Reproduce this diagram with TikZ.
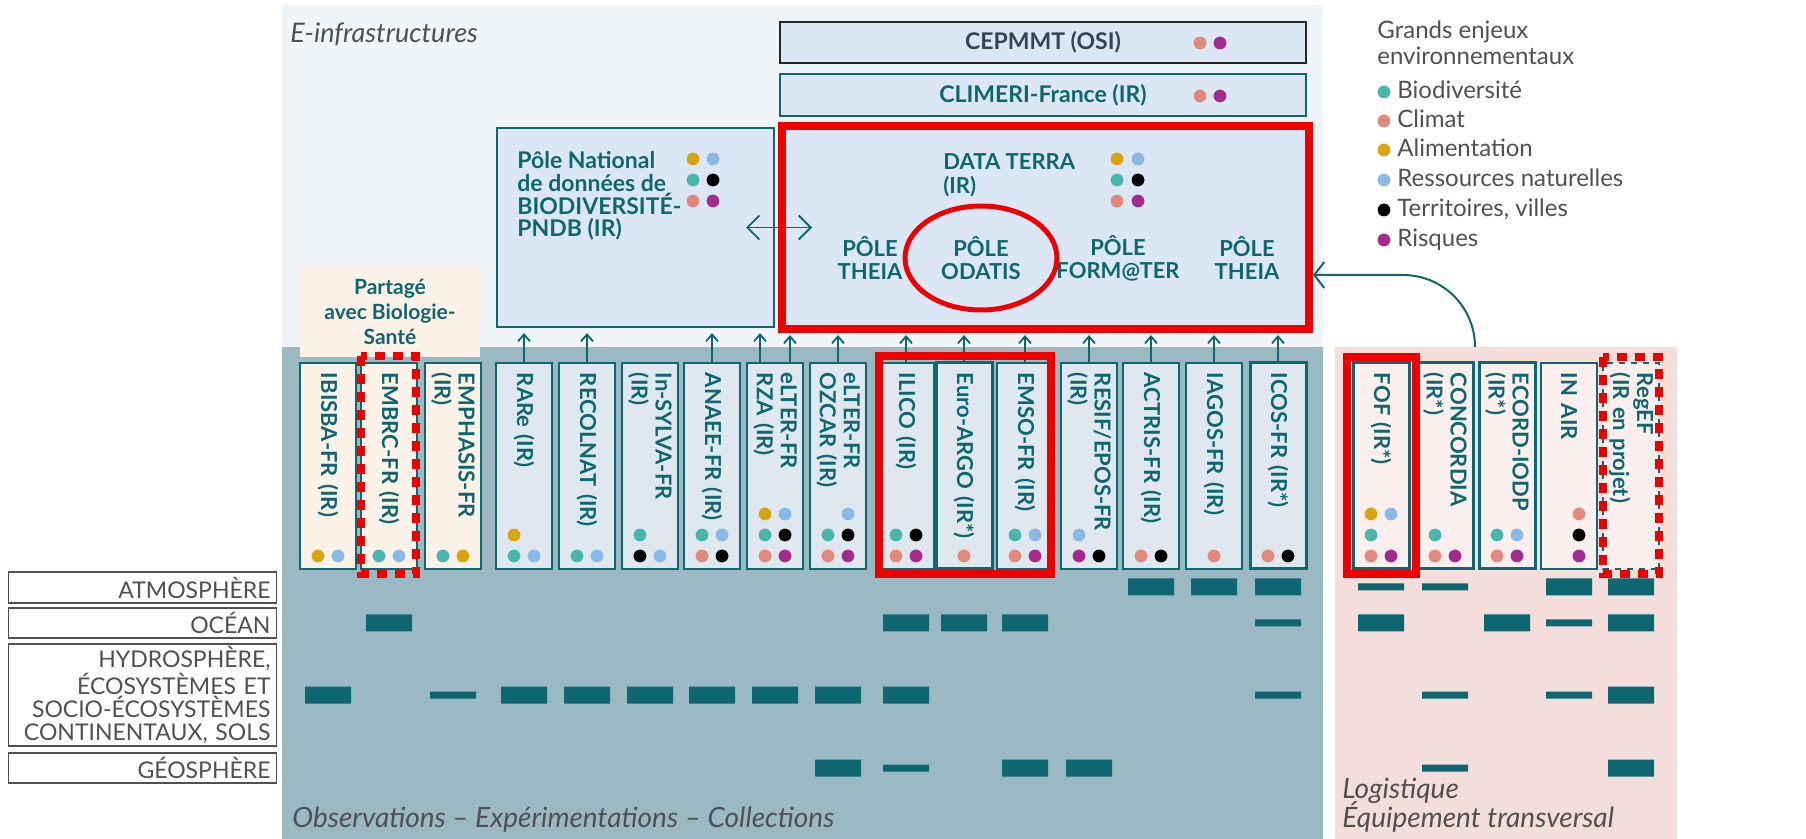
\documentclass[tikz,border=0pt]{standalone}
\usepackage{fontspec}
\setmainfont{Lato}
\usetikzlibrary{arrows.meta}

\definecolor{tealdark}{RGB}{14,102,112}
\definecolor{einfra}{RGB}{240,245,250}
\definecolor{observ}{RGB}{155,185,195}
\definecolor{logist}{RGB}{243,222,219}
\definecolor{cream}{RGB}{252,242,231}
\definecolor{colblue}{RGB}{222,232,238}
\definecolor{colpink}{RGB}{250,239,236}
\definecolor{boxblue}{RGB}{219,231,244}
\definecolor{greytext}{RGB}{80,80,80}
\definecolor{darktext}{RGB}{52,70,84}
\definecolor{highlight}{RGB}{238,0,0}
\definecolor{biodiv}{RGB}{72,182,173}
\definecolor{climat}{RGB}{226,136,124}
\definecolor{alim}{RGB}{216,165,17}
\definecolor{ressource}{RGB}{138,185,230}
\definecolor{territoire}{RGB}{0,0,0}
\definecolor{risque}{RGB}{164,42,140}

\tikzset{
  colbox/.style={rotate=-90, draw=tealdark, fill=colblue, line width=0.75pt, text=tealdark,
    text width=93pt, minimum height=28pt, inner xsep=5pt, inner ysep=1pt, outer sep=0pt,
    align=left, font=\bfseries\fontsize{11}{12}\selectfont},
  topbox/.style={fill=boxblue, line width=0.75pt, outer sep=0pt, inner sep=0pt},
  label/.style={text=tealdark, inner sep=0pt, font=\bfseries\fontsize{11}{11.5}\selectfont},
  rowlabel/.style={draw=greytext, line width=0.75pt, fill=white, text=greytext, align=right,
    text width=128pt, inner xsep=3pt, inner ysep=0pt, font=\fontsize{11.5}{11.5}\selectfont},
  legtext/.style={text=greytext, inner sep=0pt, font=\fontsize{12}{13}\selectfont},
  uparr/.style={draw=tealdark, line width=0.9pt, shorten >=3pt, -{Straight Barb[length=3.5pt,width=6pt]}},
  dblarr/.style={draw=tealdark, line width=0.9pt,
    {Straight Barb[length=6pt,width=12pt]}-{Straight Barb[length=6pt,width=12pt]}},
  hlbox/.style={draw=highlight, line width=4pt},
  hldash/.style={draw=highlight, line width=4pt, dash pattern=on 5pt off 4pt},
}

\begin{document}
\begin{tikzpicture}[x=0.5pt,y=-0.5pt]
  \useasboundingbox (0,0) rectangle (1806,839);

  \coordinate (einfra_n1) at (282,5);
  \coordinate (einfra_n2) at (1323,347);
  \coordinate (obs_n1) at (282,347);
  \coordinate (obs_n2) at (1323,839);
  \coordinate (logi_n1) at (1335,347);
  \coordinate (logi_n2) at (1677,839);

  \fill[einfra] (einfra_n1) rectangle (einfra_n2);
  \fill[observ] (obs_n1) rectangle (obs_n2);
  \fill[logist] (logi_n1) rectangle (logi_n2);

  \node[anchor=base west, inner sep=0pt, text=greytext, font=\itshape\fontsize{13.5}{15}\selectfont] (txt_einfra) at (290,43) {E-infrastructures};

  \node[label, fill=cream, align=center, minimum width=90pt, minimum height=45pt, font=\bfseries\fontsize{10.5}{12.5}\selectfont] (box_partage) at (390,312) {Partagé\\avec Biologie-\\Santé};

%  E-infrastructures
  \node[topbox, draw=black!85, minimum width=263pt, minimum height=20.5pt, text=darktext, font=\bfseries\fontsize{11.5}{12}\selectfont] (box_cepmmt) at (1043,42.5) {CEPMMT (OSI)};
  \node[topbox, draw=tealdark, minimum width=263pt, minimum height=21pt, text=tealdark, font=\bfseries\fontsize{11.5}{12}\selectfont] (box_climeri) at (1043,95) {CLIMERI-France (IR)};
  \node[topbox, draw=tealdark, minimum width=138.5pt, minimum height=99.5pt] (box_pndb) at (635.5,227.5) {};
  \node[topbox, minimum width=263.5pt, minimum height=101.5pt] (box_dataterra) at (1045.5,227.5) {};

  \fill[climat] (1200,43) circle[radius=3.2pt];
  \fill[risque] (1220,43) circle[radius=3.2pt];
  \fill[climat] (1200,96) circle[radius=3.2pt];
  \fill[risque] (1220,96) circle[radius=3.2pt];

  \node[label, anchor=north west, align=left, font=\bfseries\fontsize{11.5}{11.4}\selectfont] (txt_pndb) at (517,151) {Pôle National\\de données de\\BIODIVERSITÉ-\\PNDB (IR)};
  \fill[alim] (693,159) circle[radius=3.2pt];
  \fill[ressource] (713,159) circle[radius=3.2pt];
  \fill[biodiv] (693,180) circle[radius=3.2pt];
  \fill[territoire] (713,180) circle[radius=3.2pt];
  \fill[climat] (693,201) circle[radius=3.2pt];
  \fill[risque] (713,201) circle[radius=3.2pt];

  \node[label, anchor=north west, align=left, font=\bfseries\fontsize{11}{12}\selectfont] (txt_dataterra) at (943,153) {DATA TERRA\\(IR)};
  \fill[alim] (1117,159) circle[radius=3.2pt];
  \fill[ressource] (1138,159) circle[radius=3.2pt];
  \fill[biodiv] (1117,180) circle[radius=3.2pt];
  \fill[territoire] (1138,180) circle[radius=3.2pt];
  \fill[climat] (1117,201) circle[radius=3.2pt];
  \fill[risque] (1138,201) circle[radius=3.2pt];

  \node[label, align=center] (pole_theia1) at (870,258) {PÔLE\\THEIA};
  \node[label, align=center] (pole_odatis) at (981,258) {PÔLE\\ODATIS};
  \node[label, align=center] (pole_formater) at (1118,258) {PÔLE\\FORM@TER};
  \node[label, align=center] (pole_theia2) at (1247,258) {PÔLE\\THEIA};

  \draw[dblarr] ([xshift=-14pt]box_pndb.east) -- ([xshift=15pt]box_dataterra.west);

  \draw[hlbox] (box_dataterra.south west) rectangle (box_dataterra.north east);
  \draw[highlight, line width=2.5pt] (pole_odatis) ellipse[x radius=38pt, y radius=26pt];

%  Observations - Experimentations - Collections
  \node[colbox, fill=cream] (col_ibisba) at (328,466) {IBISBA-FR (IR)};
  \node[colbox, fill=cream] (col_embrc) at (389,466) {EMBRC-FR (IR)};
  \node[colbox, fill=cream] (col_emphasis) at (453,466) {EMPHASIS-FR\\(IR)};
  \node[colbox] (col_rare) at (524,466) {RARe (IR)};
  \node[colbox] (col_recolnat) at (587,466) {RECOLNAT (IR)};
  \node[colbox] (col_insylva) at (650,466) {In-SYLVA-FR\\(IR)};
  \node[colbox] (col_anaee) at (712,466) {ANAEE-FR (IR)};
  \node[colbox] (col_rza) at (775,466) {eLTER-FR\\RZA (IR)};
  \node[colbox] (col_ozcar) at (838,466) {eLTER-FR\\OZCAR (IR)};
  \node[colbox] (col_ilico) at (906,466) {ILICO (IR)};
  \node[colbox, line width=1.5pt] (col_argo) at (964,466) {Euro-ARGO (IR*)};
  \node[colbox] (col_emso) at (1025,466) {EMSO-FR (IR)};
  \node[colbox] (col_resif) at (1089,466) {RESIF/EPOS-FR\\(IR)};
  \node[colbox] (col_actris) at (1151,466) {ACTRIS-FR (IR)};
  \node[colbox] (col_iagos) at (1214,466) {IAGOS-FR (IR)};
  \node[colbox, line width=1.5pt] (col_icos) at (1278,466) {ICOS-FR (IR*)};

%  Logistique
  \node[colbox, fill=colpink, line width=1.5pt] (col_fof) at (1381,466) {FOF (IR*)};
  \node[colbox, fill=colpink, line width=1.5pt] (col_concordia) at (1445,466) {CONCORDIA\\(IR*)};
  \node[colbox, fill=colpink, line width=1.5pt] (col_ecord) at (1507,466) {ECORD-IODP\\(IR*)};
  \node[colbox, fill=colpink] (col_inair) at (1569,466) {IN AIR};
  \node[colbox, fill=colpink, dashed] (col_regef) at (1631,466) {RegEF\\(IR en projet)};

  \draw[uparr] (col_rare.west) -- (col_rare.west |- box_pndb.south);
  \draw[uparr] (col_recolnat.west) -- (col_recolnat.west |- box_pndb.south);
  \draw[uparr] (col_anaee.west) -- (col_anaee.west |- box_pndb.south);
  \draw[uparr] ([xshift=-7.5pt]col_rza.west) -- ([xshift=-7.5pt]col_rza.west |- box_pndb.south);
  \draw[uparr] ([xshift=7.5pt]col_rza.west) -- ([xshift=7.5pt]col_rza.west |- box_dataterra.south);
  \draw[uparr] (col_ozcar.west) -- (col_ozcar.west |- box_dataterra.south);
  \draw[uparr] (col_ilico.west) -- (col_ilico.west |- box_dataterra.south);
  \draw[uparr] (col_argo.west) -- (col_argo.west |- box_dataterra.south);
  \draw[uparr] (col_emso.west) -- (col_emso.west |- box_dataterra.south);
  \draw[uparr] (col_resif.west) -- (col_resif.west |- box_dataterra.south);
  \draw[uparr] (col_actris.west) -- (col_actris.west |- box_dataterra.south);
  \draw[uparr] (col_iagos.west) -- (col_iagos.west |- box_dataterra.south);
  \draw[uparr] (col_icos.west) -- (col_icos.west |- box_dataterra.south);

%  Grands enjeux of each infrastructure
  \fill[alim] (318,556) circle[radius=3.2pt];  \fill[ressource] (338,556) circle[radius=3.2pt];
  \fill[biodiv] (379,556) circle[radius=3.2pt];  \fill[ressource] (399,556) circle[radius=3.2pt];
  \fill[biodiv] (443,556) circle[radius=3.2pt];  \fill[alim] (463,556) circle[radius=3.2pt];
  \fill[alim] (514,535) circle[radius=3.2pt];
  \fill[biodiv] (514,556) circle[radius=3.2pt];  \fill[ressource] (534,556) circle[radius=3.2pt];
  \fill[biodiv] (577,556) circle[radius=3.2pt];  \fill[ressource] (597,556) circle[radius=3.2pt];
  \fill[biodiv] (640,535) circle[radius=3.2pt];
  \fill[territoire] (640,556) circle[radius=3.2pt];  \fill[ressource] (660,556) circle[radius=3.2pt];
  \fill[biodiv] (702,535) circle[radius=3.2pt];  \fill[ressource] (722,535) circle[radius=3.2pt];
  \fill[climat] (702,556) circle[radius=3.2pt];  \fill[territoire] (722,556) circle[radius=3.2pt];
  \fill[alim] (765,514) circle[radius=3.2pt];  \fill[ressource] (785,514) circle[radius=3.2pt];
  \fill[biodiv] (765,535) circle[radius=3.2pt];  \fill[territoire] (785,535) circle[radius=3.2pt];
  \fill[climat] (765,556) circle[radius=3.2pt];  \fill[risque] (785,556) circle[radius=3.2pt];
  \fill[ressource] (848,514) circle[radius=3.2pt];
  \fill[biodiv] (828,535) circle[radius=3.2pt];  \fill[territoire] (848,535) circle[radius=3.2pt];
  \fill[climat] (828,556) circle[radius=3.2pt];  \fill[risque] (848,556) circle[radius=3.2pt];
  \fill[biodiv] (896,535) circle[radius=3.2pt];  \fill[territoire] (916,535) circle[radius=3.2pt];
  \fill[climat] (896,556) circle[radius=3.2pt];  \fill[risque] (916,556) circle[radius=3.2pt];
  \fill[climat] (964,556) circle[radius=3.2pt];
  \fill[biodiv] (1015,535) circle[radius=3.2pt];  \fill[ressource] (1035,535) circle[radius=3.2pt];
  \fill[climat] (1015,556) circle[radius=3.2pt];  \fill[risque] (1035,556) circle[radius=3.2pt];
  \fill[ressource] (1079,535) circle[radius=3.2pt];
  \fill[risque] (1079,556) circle[radius=3.2pt];  \fill[territoire] (1099,556) circle[radius=3.2pt];
  \fill[climat] (1141,556) circle[radius=3.2pt];  \fill[territoire] (1161,556) circle[radius=3.2pt];
  \fill[climat] (1214,556) circle[radius=3.2pt];
  \fill[climat] (1268,556) circle[radius=3.2pt];  \fill[territoire] (1288,556) circle[radius=3.2pt];
  \fill[alim] (1371,514) circle[radius=3.2pt];  \fill[ressource] (1391,514) circle[radius=3.2pt];
  \fill[biodiv] (1371,535) circle[radius=3.2pt];
  \fill[climat] (1371,556) circle[radius=3.2pt];  \fill[risque] (1391,556) circle[radius=3.2pt];
  \fill[biodiv] (1435,535) circle[radius=3.2pt];
  \fill[climat] (1435,556) circle[radius=3.2pt];  \fill[risque] (1455,556) circle[radius=3.2pt];
  \fill[biodiv] (1497,535) circle[radius=3.2pt];  \fill[ressource] (1517,535) circle[radius=3.2pt];
  \fill[climat] (1497,556) circle[radius=3.2pt];  \fill[risque] (1517,556) circle[radius=3.2pt];
  \fill[climat] (1579,514) circle[radius=3.2pt];
  \fill[territoire] (1579,535) circle[radius=3.2pt];
  \fill[risque] (1579,556) circle[radius=3.2pt];

%  Compartments
  \node[rowlabel, minimum height=15.5pt] (row_atmo) at (142.5,587.5) {ATMOSPHÈRE};
  \node[rowlabel, minimum height=15pt] (row_ocean) at (142.5,623) {OCÉAN};
  \node[rowlabel, minimum height=51pt] (row_hydro) at (142.5,695) {HYDROSPHÈRE,\\ÉCOSYSTÈMES ET\\SOCIO-ÉCOSYSTÈMES\\CONTINENTAUX, SOLS};
  \node[rowlabel, minimum height=15pt] (row_geo) at (142.5,768) {GÉOSPHÈRE};

  \fill[tealdark] (1151,587) +(-23,-8.5) rectangle +(23,8.5)
                  (1214,587) +(-23,-8.5) rectangle +(23,8.5)
                  (1278,587) +(-23,-8.5) rectangle +(23,8.5)
                  (1569,587) +(-23,-8.5) rectangle +(23,8.5)
                  (1631,587) +(-23,-8.5) rectangle +(23,8.5)
                  (1381,587) +(-23,-3.5) rectangle +(23,3.5)
                  (1445,587) +(-23,-3.5) rectangle +(23,3.5);
  \fill[tealdark] (389,623) +(-23,-8.5) rectangle +(23,8.5)
                  (906,623) +(-23,-8.5) rectangle +(23,8.5)
                  (964,623) +(-23,-8.5) rectangle +(23,8.5)
                  (1025,623) +(-23,-8.5) rectangle +(23,8.5)
                  (1381,623) +(-23,-8.5) rectangle +(23,8.5)
                  (1507,623) +(-23,-8.5) rectangle +(23,8.5)
                  (1631,623) +(-23,-8.5) rectangle +(23,8.5)
                  (1278,623) +(-23,-3.5) rectangle +(23,3.5)
                  (1569,623) +(-23,-3.5) rectangle +(23,3.5);
  \fill[tealdark] (328,695) +(-23,-8.5) rectangle +(23,8.5)
                  (524,695) +(-23,-8.5) rectangle +(23,8.5)
                  (587,695) +(-23,-8.5) rectangle +(23,8.5)
                  (650,695) +(-23,-8.5) rectangle +(23,8.5)
                  (712,695) +(-23,-8.5) rectangle +(23,8.5)
                  (775,695) +(-23,-8.5) rectangle +(23,8.5)
                  (838,695) +(-23,-8.5) rectangle +(23,8.5)
                  (906,695) +(-23,-8.5) rectangle +(23,8.5)
                  (1631,695) +(-23,-8.5) rectangle +(23,8.5)
                  (453,695) +(-23,-3.5) rectangle +(23,3.5)
                  (1278,695) +(-23,-3.5) rectangle +(23,3.5)
                  (1445,695) +(-23,-3.5) rectangle +(23,3.5)
                  (1569,695) +(-23,-3.5) rectangle +(23,3.5);
  \fill[tealdark] (838,768) +(-23,-8.5) rectangle +(23,8.5)
                  (1025,768) +(-23,-8.5) rectangle +(23,8.5)
                  (1089,768) +(-23,-8.5) rectangle +(23,8.5)
                  (1631,768) +(-23,-8.5) rectangle +(23,8.5)
                  (906,768) +(-23,-3.5) rectangle +(23,3.5)
                  (1445,768) +(-23,-3.5) rectangle +(23,3.5);

%  Highlights
  \draw[hlbox] (879,356) rectangle (1051,574);
  \draw[hlbox] (1347,357) rectangle (1416,574);
  \draw[hldash] (361,356) rectangle (416,574);
  \draw[hldash] (1603,357) rectangle (1659,574);

  \node[anchor=base west, inner sep=0pt, text=greytext, font=\itshape\fontsize{14}{15}\selectfont] (txt_obs) at (292,827) {Observations – Expérimentations – Collections};
  \node[anchor=base west, inner sep=0pt, text=greytext, font=\itshape\fontsize{14}{15}\selectfont] (txt_logi) at (1342,798) {Logistique};
  \node[anchor=base west, inner sep=0pt, text=greytext, font=\itshape\fontsize{14}{15}\selectfont] (txt_equip) at (1342,827) {Équipement transversal};

%  Legend
  \node[legtext, anchor=west, align=left] (leg_title) at (1377,43) {Grands enjeux\\environnementaux};
  \fill[biodiv] (1384,92) circle[radius=3.2pt];
  \node[legtext, anchor=base west] (leg_biodiv) at (1397,99) {Biodiversité};
  \fill[climat] (1384,121) circle[radius=3.2pt];
  \node[legtext, anchor=base west] (leg_climat) at (1397,128) {Climat};
  \fill[alim] (1384,150) circle[radius=3.2pt];
  \node[legtext, anchor=base west] (leg_alim) at (1397,157) {Alimentation};
  \fill[ressource] (1384,180) circle[radius=3.2pt];
  \node[legtext, anchor=base west] (leg_ress) at (1397,187) {Ressources naturelles};
  \fill[territoire] (1384,210) circle[radius=3.2pt];
  \node[legtext, anchor=base west] (leg_terr) at (1397,217) {Territoires, villes};
  \fill[risque] (1384,240) circle[radius=3.2pt];
  \node[legtext, anchor=base west] (leg_risque) at (1397,247) {Risques};

  \coordinate (arr_start) at (1475,347);
  \coordinate (arr_bend) at (1403,275);
  \draw[draw=tealdark, line width=1pt, shorten >=2pt, -{Straight Barb[length=5pt,width=13pt]}] (arr_start) to[out=90,in=0] (arr_bend) -- (box_dataterra.east |- arr_bend);

\end{tikzpicture}
\end{document}
